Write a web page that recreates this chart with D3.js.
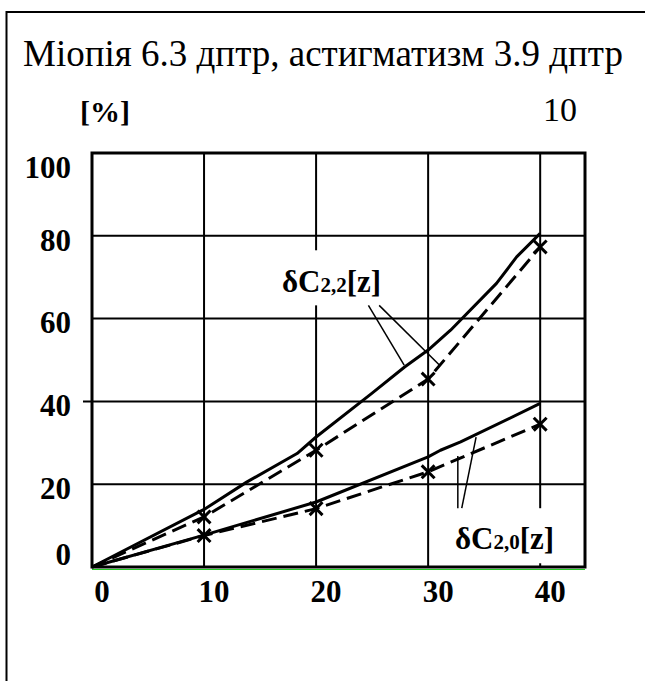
<!DOCTYPE html>
<html lang="uk">
<head>
<meta charset="UTF-8">
<title>Міопія 6.3 дптр</title>
<script src="https://d3js.org/d3.v7.min.js"></script>
<style>
    body {margin:0; background:#fff}
    svg text {font-family:"Liberation Serif","Times New Roman",serif; fill:#000}
    .bold {font-weight:bold}
</style>
</head>
<body>
<svg id="chart" width="645" height="681"></svg>
<script>
// values (z on x axis, % on y axis)
var xTicks = [0, 10, 20, 30, 40];
var yTicks = [0, 20, 40, 60, 80, 100];

// solid curves (hand drawn, a few kinks kept)
var c22Solid = [[0,0],[10,13.9],[13.8,20.5],[18.3,27.4],[20,31.4],[25,42],[27.9,48.3],[30,52.4],[32,57.2],[36.1,68.5],[37.9,74.9],[40,80.6]];
var c20Solid = [[0,0],[10,7.7],[20,15.7],[30,26.6],[31.1,28.2],[32.9,30.2],[40,39.5]];

// dashed curves with x markers
var markX = [0, 10, 20, 30, 40];
var c22Dashed = [0, 12.1, 28.2, 45.4, 77.3];
var c20Dashed = [0, 7.6, 14.1, 23, 34.5];

// annotations, in data units
var labels = [
    {sub: "2,2", x: 16.95, y: 66.4, box: [16.3, 76.5, 26.8, 63.2],
     leaders: [[[24.67,63.2],[27.86,48.75]], [[25.63,63.2],[31.07,48.6]]]},
    {sub: "2,0", x: 32.4, y: 4.45, box: [31.8, 14.2, 41.8, 0.9],
     leaders: [[[32.65,14.2],[32.65,26.8]], [[33.0,14.2],[34.28,31.35]]]}
];

var svg = d3.select("#chart");
var x = d3.scaleLinear().domain([0, 44]).range([92, 585]);
var y = d3.scaleLinear().domain([0, 100]).range([567, 153]);

// outer frame (only left and top visible)
svg.append("path").attr("d", "M6.5,681V12H645")
    .attr("fill", "none").attr("stroke", "#000").attr("stroke-width", 2);

svg.append("text").attr("x", 23).attr("y", 66).attr("font-size", 37)
    .text("Міопія 6.3 дптр, астигматизм 3.9 дптр");
svg.append("text").attr("class", "bold").attr("x", 80).attr("y", 122).attr("font-size", 30).text("[%]");
svg.append("text").attr("x", 543).attr("y", 121).attr("font-size", 34).text("10");

// grid
svg.append("g").selectAll("line").data(xTicks.slice(1)).enter().append("line")
    .attr("x1", function(d){ return x(d); }).attr("x2", function(d){ return x(d); })
    .attr("y1", y(100)).attr("y2", y(0))
    .attr("stroke", "#000").attr("stroke-width", 2);
svg.append("g").selectAll("line").data(yTicks.slice(1, -1)).enter().append("line")
    .attr("x1", function(d){ return d === 40 ? x(0) - 9 : x(0); }).attr("x2", x(44))
    .attr("y1", function(d){ return y(d); }).attr("y2", function(d){ return y(d); })
    .attr("stroke", "#000").attr("stroke-width", 2);

// green line right under the x axis
svg.append("line").attr("x1", x(0)).attr("x2", x(44)).attr("y1", y(0) + 2.5).attr("y2", y(0) + 2.5)
    .attr("stroke", "#22cc22").attr("stroke-width", 1);

// plot frame
svg.append("rect").attr("x", x(0)).attr("y", y(100))
    .attr("width", x(44) - x(0)).attr("height", y(0) - y(100))
    .attr("fill", "none").attr("stroke", "#000").attr("stroke-width", 3);

// tick labels
svg.append("g").selectAll("text").data(yTicks).enter().append("text")
    .attr("class", "bold").attr("font-size", 31).attr("text-anchor", "end")
    .attr("x", 71)
    .attr("y", function(d){ return Math.min(Math.max(y(d) + 4, y(100) + 14), y(0) - 13); })
    .attr("dy", "0.35em")
    .text(function(d){ return d; });
svg.append("g").selectAll("text").data(xTicks).enter().append("text")
    .attr("class", "bold").attr("font-size", 31).attr("text-anchor", "middle")
    .attr("x", function(d){ return x(d) + 10; }).attr("y", 602)
    .text(function(d){ return d; });

// label boxes (white, they cut the grid)
labels.forEach(function(l){
    svg.append("rect")
        .attr("x", x(l.box[0])).attr("y", y(l.box[1]))
        .attr("width", x(l.box[2]) - x(l.box[0])).attr("height", y(l.box[3]) - y(l.box[1]))
        .attr("fill", "#fff");
});

var line = d3.line().x(function(d){ return x(d[0]); }).y(function(d){ return y(d[1]); });

[c22Solid, c20Solid].forEach(function(s){
    svg.append("path").attr("d", line(s)).attr("fill", "none")
        .attr("stroke", "#000").attr("stroke-width", 3).attr("stroke-linejoin", "round");
});

[c22Dashed, c20Dashed].forEach(function(s){
    var pts = markX.map(function(v, i){ return [v, s[i]]; });
    svg.append("path").attr("d", line(pts)).attr("fill", "none")
        .attr("stroke", "#000").attr("stroke-width", 3).attr("stroke-dasharray", "15,7");
    svg.append("g").selectAll("path").data(pts.slice(1)).enter().append("path")
        .attr("d", d3.symbol(d3.symbolTimes, 110))
        .attr("transform", function(d){ return "translate(" + x(d[0]) + "," + y(d[1]) + ")"; })
        .attr("fill", "none").attr("stroke", "#000").attr("stroke-width", 3);
});

// labels and leader lines
labels.forEach(function(l){
    l.leaders.forEach(function(seg){
        svg.append("path").attr("d", line(seg)).attr("fill", "none")
            .attr("stroke", "#000").attr("stroke-width", 1.5);
    });
    var t = svg.append("text").attr("class", "bold").attr("font-size", 31)
        .attr("x", x(l.x)).attr("y", y(l.y));
    t.append("tspan").text("δC");
    t.append("tspan").attr("font-size", 21).text(l.sub);
    t.append("tspan").text("[z]");
});
</script>
</body>
</html>
